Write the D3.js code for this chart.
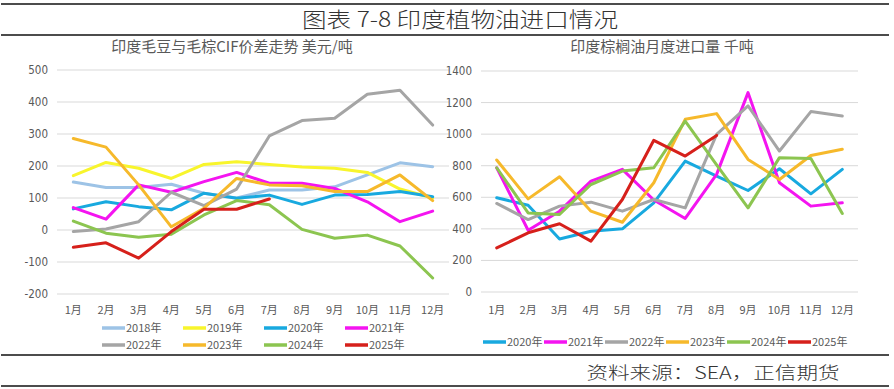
<!DOCTYPE html>
<html>
<head>
<meta charset="utf-8">
<script src="https://cdn.jsdelivr.net/npm/d3@7"></script>
<style>
  body { margin: 0; background: #fff; }
  svg { display: block; }
</style>
</head>
<body>
<div id="chart"></div>
<script>
// Month labels shared by both panels
const months = ["1月","2月","3月","4月","5月","6月","7月","8月","9月","10月","11月","12月"];

// Left panel: soy - palm CIF spread, USD/t
const spreadYears = ["2018年","2019年","2020年","2021年","2022年","2023年","2024年","2025年"];
const spread2018 = [150, 133, 133, 143, 115, 100, 125, 125, 135, 172, 210, 198];
const spread2019 = [170, 211, 193, 161, 205, 213, 205, 197, 193, 180, 128, 100];
const spread2020 = [66, 88, 73, 63, 115, 99, 109, 80, 109, 111, 120, 104];
const spread2021 = [70, 34, 141, 118, 151, 180, 146, 146, 130, 88, 26, 59];
const spread2022 = [-5, 3, 26, 118, 76, 128, 294, 342, 349, 424, 437, 328];
const spread2023 = [286, 259, 141, 10, 68, 161, 141, 138, 120, 120, 172, 92];
const spread2024 = [28, -10, -23, -13, 47, 92, 79, 2, -26, -16, -50, -150];
const spread2025 = [-54, -40, -88, -5, 65, 65, 97];
const spreadTicks = [-200, -100, 0, 100, 200, 300, 400, 500];

// Right panel: palm oil monthly imports, kt
const importYears = ["2020年","2021年","2022年","2023年","2024年","2025年"];
const import2020 = [597, 550, 336, 385, 400, 565, 829, 734, 643, 781, 622, 777];
const import2021 = [787, 391, 512, 702, 777, 583, 466, 745, 1263, 692, 544, 565];
const import2022 = [561, 459, 544, 569, 512, 586, 533, 999, 1179, 893, 1143, 1115];
const import2023 = [836, 590, 730, 512, 442, 692, 1094, 1130, 840, 713, 865, 904];
const import2024 = [787, 501, 491, 681, 766, 787, 1083, 805, 533, 851, 846, 497];
const import2025 = [279, 375, 432, 322, 586, 961, 861, 992];
const importTicks = [0, 200, 400, 600, 800, 1000, 1200, 1400];

const yearColors = {
  "2018年": "#9dc3e6", "2019年": "#f8f52c", "2020年": "#18a9df", "2021年": "#f414f0",
  "2022年": "#a5a5a5", "2023年": "#f6b92b", "2024年": "#8cc550", "2025年": "#d6201b"
};

const width = 894, height = 389;
const cjk = "'Noto Sans CJK SC', 'Noto Sans', sans-serif";
const narrow = "'Liberation Sans Narrow', 'DejaVu Sans Condensed', 'Roboto', sans-serif";
const textGray = "#595959";

const svg = d3.select("#chart").append("svg")
  .attr("width", width).attr("height", height);

// frame rules and captions
[4, 35, 355, 386].forEach(y => {
  svg.append("line").attr("x1", 1).attr("x2", 889).attr("y1", y).attr("y2", y)
    .attr("stroke", "#111").attr("stroke-width", 1.5);
});
svg.append("text").attr("x", 460).attr("y", 27).attr("text-anchor", "middle")
  .attr("font-family", cjk).attr("font-size", 21).attr("font-weight", 300).attr("fill", "#333")
  .attr("textLength", 316).attr("lengthAdjust", "spacingAndGlyphs")
  .text("图表 7-8 印度植物油进口情况");
svg.append("text").attr("x", 713).attr("y", 379).attr("text-anchor", "middle")
  .attr("font-family", cjk).attr("font-size", 17).attr("font-weight", 300).attr("fill", "#333")
  .attr("textLength", 253).attr("lengthAdjust", "spacingAndGlyphs")
  .text("资料来源：SEA，正信期货");

function drawPanel(opt) {
  const g = svg.append("g");
  const x = d3.scaleBand().domain(months).range(opt.xRange);
  const y = d3.scaleLinear().domain(opt.yDomain).range(opt.yRange);
  const cx = m => x(m) + x.bandwidth() / 2;

  g.append("text").attr("x", opt.titleX).attr("y", 52).attr("text-anchor", "middle")
    .attr("font-family", cjk).attr("font-size", 15).attr("fill", textGray)
    .text(opt.title);

  // grid
  g.selectAll(".grid").data(opt.ticks).enter().append("line")
    .attr("x1", opt.xRange[0]).attr("x2", opt.xRange[1])
    .attr("y1", d => y(d)).attr("y2", d => y(d))
    .attr("stroke", "#d9d9d9").attr("stroke-width", 1);

  // y tick labels
  g.selectAll(".yl").data(opt.ticks).enter().append("text")
    .attr("x", opt.labelX).attr("y", d => y(d) + 4).attr("text-anchor", "end")
    .attr("font-family", narrow).attr("font-size", 11.5).attr("fill", textGray)
    .text(d => d);

  // x tick labels
  g.selectAll(".xl").data(months).enter().append("text")
    .attr("x", d => cx(d)).attr("y", 314).attr("text-anchor", "middle")
    .attr("font-family", cjk).attr("font-size", 11).attr("fill", textGray)
    .text(d => d);

  const line = d3.line().x((d, i) => cx(months[i])).y(d => y(d));
  opt.series.forEach((s, i) => {
    g.append("path").datum(s)
      .attr("fill", "none").attr("stroke", yearColors[opt.years[i]])
      .attr("stroke-width", 3).attr("stroke-linejoin", "round").attr("stroke-linecap", "round")
      .attr("d", line);
  });

  // legend
  opt.years.forEach((yr, i) => {
    const col = i % opt.perRow, row = Math.floor(i / opt.perRow);
    const lx = opt.legendX + col * opt.legendStep, ly = opt.legendY + row * 17;
    g.append("line").attr("x1", lx).attr("x2", lx + 23).attr("y1", ly).attr("y2", ly)
      .attr("stroke", yearColors[yr]).attr("stroke-width", 3.5);
    g.append("text").attr("x", lx + 24).attr("y", ly + 4)
      .attr("font-family", cjk).attr("font-size", 11).attr("fill", textGray)
      .text(yr);
  });
}

drawPanel({
  title: "印度毛豆与毛棕CIF价差走势 美元/吨", titleX: 232,
  xRange: [57, 449], yDomain: [-200, 500], yRange: [294, 70],
  ticks: spreadTicks, labelX: 48,
  years: spreadYears,
  series: [spread2018, spread2019, spread2020, spread2021, spread2022, spread2023, spread2024, spread2025],
  legendX: 102, legendY: 328, legendStep: 81, perRow: 4
});

drawPanel({
  title: "印度棕榈油月度进口量 千吨", titleX: 662,
  xRange: [481, 858], yDomain: [0, 1400], yRange: [292, 71],
  ticks: importTicks, labelX: 472,
  years: importYears,
  series: [import2020, import2021, import2022, import2023, import2024, import2025],
  legendX: 483, legendY: 342, legendStep: 61, perRow: 6
});
</script>
</body>
</html>
